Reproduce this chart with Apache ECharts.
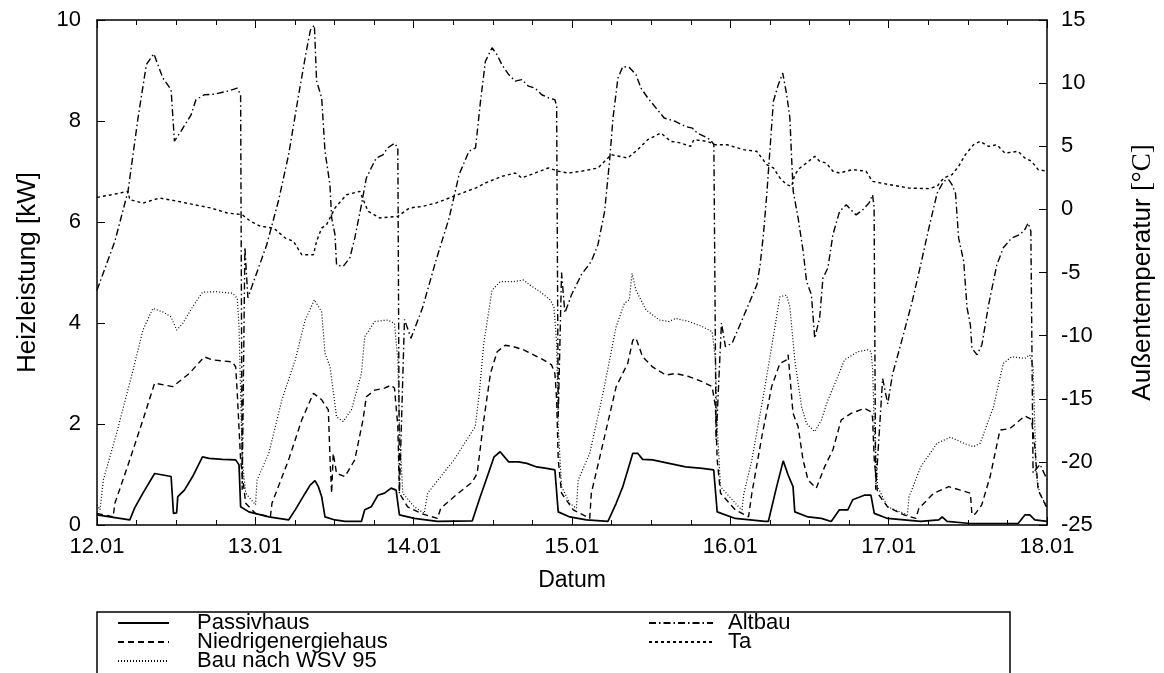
<!DOCTYPE html>
<html>
<head>
<meta charset="utf-8">
<script src="https://cdn.jsdelivr.net/npm/echarts@6/dist/echarts.min.js"></script>
<style>
  html, body { margin: 0; padding: 0; background: #fff; }
  #chart { width: 1164px; height: 673px; }
</style>
</head>
<body>
<div id="chart"></div>
<script>
// Tage (12.01 = 12. Januar), Werte [Tag, kW] bzw. [Tag, °C]
const xTickLabels = ["12.01", "13.01", "14.01", "15.01", "16.01", "17.01", "18.01"];

const passivhaus = [
  [12.000, 0.20], [12.082, 0.16], [12.207, 0.10], [12.238, 0.34], [12.290, 0.63],
  [12.364, 1.02], [12.416, 0.99], [12.468, 0.96], [12.483, 0.23], [12.503, 0.24],
  [12.510, 0.56], [12.552, 0.69], [12.604, 0.96], [12.666, 1.35], [12.708, 1.32],
  [12.792, 1.30], [12.876, 1.29], [12.897, 1.19], [12.907, 0.36], [12.959, 0.26],
  [13.085, 0.16], [13.210, 0.10], [13.252, 0.30], [13.315, 0.63], [13.346, 0.79],
  [13.377, 0.88], [13.398, 0.76], [13.419, 0.56], [13.440, 0.16], [13.503, 0.10],
  [13.566, 0.07], [13.670, 0.07], [13.691, 0.30], [13.732, 0.36], [13.774, 0.59],
  [13.816, 0.63], [13.858, 0.73], [13.889, 0.69], [13.910, 0.20], [14.004, 0.13],
  [14.150, 0.07], [14.370, 0.08], [14.414, 0.50], [14.464, 0.95], [14.508, 1.35],
  [14.546, 1.45], [14.600, 1.25], [14.663, 1.25], [14.715, 1.22], [14.777, 1.15],
  [14.840, 1.12], [14.892, 1.09], [14.913, 0.26], [14.986, 0.16], [15.091, 0.10],
  [15.227, 0.07], [15.279, 0.43], [15.321, 0.76], [15.362, 1.19], [15.384, 1.42],
  [15.415, 1.42], [15.446, 1.30], [15.509, 1.29], [15.613, 1.22], [15.718, 1.15],
  [15.823, 1.12], [15.895, 1.09], [15.917, 0.26], [16.031, 0.13], [16.219, 0.07],
  [16.240, 0.07], [16.288, 0.70], [16.334, 1.27], [16.365, 0.99], [16.396, 0.76],
  [16.407, 0.26], [16.491, 0.16], [16.575, 0.13], [16.637, 0.07], [16.689, 0.30],
  [16.742, 0.30], [16.773, 0.50], [16.846, 0.59], [16.888, 0.59], [16.909, 0.23],
  [16.993, 0.13], [17.202, 0.07], [17.317, 0.10], [17.338, 0.16], [17.369, 0.07],
  [17.515, 0.03], [17.818, 0.03], [17.860, 0.20], [17.891, 0.20], [17.923, 0.10],
  [18.000, 0.07]
];

const niedrigenergiehaus = [
  [12.000, 0.23], [12.102, 0.16], [12.113, 0.43], [12.207, 1.29], [12.290, 2.08],
  [12.364, 2.81], [12.478, 2.74], [12.583, 3.00], [12.677, 3.33], [12.729, 3.27],
  [12.855, 3.23], [12.876, 3.13], [12.886, 2.61], [12.907, 1.29], [12.939, 0.43],
  [13.001, 0.23], [13.095, 0.16], [13.105, 0.43], [13.210, 1.29], [13.293, 2.08],
  [13.367, 2.61], [13.419, 2.48], [13.461, 2.28], [13.472, 1.29], [13.482, 0.63],
  [13.492, 1.42], [13.513, 1.02], [13.566, 0.96], [13.628, 1.29], [13.680, 2.08],
  [13.701, 2.54], [13.754, 2.67], [13.816, 2.71], [13.858, 2.77], [13.879, 2.71],
  [13.900, 1.95], [13.910, 0.63], [13.962, 0.36], [14.046, 0.23], [14.150, 0.13],
  [14.171, 0.33], [14.255, 0.56], [14.370, 0.85], [14.401, 1.02], [14.443, 2.08],
  [14.485, 3.00], [14.527, 3.43], [14.579, 3.56], [14.631, 3.53], [14.694, 3.47],
  [14.757, 3.37], [14.820, 3.27], [14.871, 3.17], [14.892, 3.00], [14.903, 2.48],
  [14.913, 1.29], [14.934, 0.63], [15.008, 0.30], [15.112, 0.13], [15.122, 0.63],
  [15.196, 1.62], [15.279, 2.74], [15.352, 3.20], [15.384, 3.66], [15.404, 3.70],
  [15.446, 3.33], [15.509, 3.13], [15.592, 2.97], [15.655, 3.00], [15.738, 2.94],
  [15.822, 2.84], [15.885, 2.74], [15.906, 2.34], [15.917, 1.29], [15.938, 0.63],
  [16.031, 0.30], [16.115, 0.16], [16.136, 0.63], [16.199, 1.75], [16.261, 2.74],
  [16.313, 3.20], [16.355, 3.27], [16.365, 3.37], [16.396, 2.21], [16.428, 1.95],
  [16.459, 1.29], [16.491, 0.89], [16.543, 0.73], [16.595, 1.15], [16.648, 1.49],
  [16.700, 2.08], [16.763, 2.21], [16.846, 2.31], [16.884, 2.25], [16.898, 2.14],
  [16.909, 1.29], [16.930, 0.63], [16.993, 0.36], [17.097, 0.20], [17.171, 0.13],
  [17.191, 0.33], [17.285, 0.63], [17.379, 0.76], [17.453, 0.69], [17.516, 0.63],
  [17.526, 0.20], [17.547, 0.22], [17.588, 0.40], [17.641, 0.96], [17.703, 1.88],
  [17.766, 1.91], [17.860, 2.16], [17.902, 2.09], [17.923, 1.55], [17.944, 0.69],
  [17.996, 0.36]
];

const bauWSV95 = [
  [12.000, 0.40], [12.019, 0.30], [12.040, 0.89], [12.124, 1.82], [12.228, 3.07],
  [12.290, 3.86], [12.353, 4.29], [12.416, 4.22], [12.468, 4.12], [12.503, 3.86],
  [12.541, 3.99], [12.604, 4.32], [12.666, 4.61], [12.750, 4.62], [12.855, 4.59],
  [12.886, 4.49], [12.897, 3.93], [12.907, 2.61], [12.917, 1.29], [12.939, 0.63],
  [13.001, 0.40], [13.011, 0.89], [13.085, 1.42], [13.168, 2.48], [13.252, 3.27],
  [13.315, 4.06], [13.373, 4.46], [13.419, 4.22], [13.440, 3.40], [13.472, 3.13],
  [13.513, 2.14], [13.555, 2.05], [13.607, 2.28], [13.670, 3.00], [13.691, 3.73],
  [13.754, 4.03], [13.837, 4.06], [13.879, 3.99], [13.900, 3.27], [13.910, 1.95],
  [13.931, 0.63], [14.004, 0.36], [14.067, 0.23], [14.088, 0.63], [14.255, 1.29],
  [14.389, 1.95], [14.414, 2.60], [14.443, 3.60], [14.495, 4.65], [14.547, 4.82],
  [14.631, 4.82], [14.694, 4.85], [14.735, 4.75], [14.798, 4.62], [14.861, 4.46],
  [14.886, 4.32], [14.903, 3.60], [14.913, 1.95], [14.934, 0.76], [14.986, 0.43],
  [15.028, 0.33], [15.039, 0.89], [15.112, 1.42], [15.196, 2.61], [15.279, 3.93],
  [15.331, 4.39], [15.362, 4.46], [15.379, 4.98], [15.404, 4.65], [15.467, 4.26],
  [15.551, 4.06], [15.613, 4.03], [15.655, 4.09], [15.738, 4.03], [15.822, 3.93],
  [15.885, 3.83], [15.906, 3.27], [15.917, 1.95], [15.938, 0.76], [16.052, 0.36],
  [16.074, 0.30], [16.084, 0.60], [16.136, 1.29], [16.219, 2.74], [16.282, 3.93],
  [16.313, 4.52], [16.355, 4.55], [16.376, 4.32], [16.407, 3.27], [16.450, 2.34],
  [16.481, 2.01], [16.533, 1.85], [16.575, 2.08], [16.617, 2.48], [16.679, 2.94],
  [16.721, 3.27], [16.805, 3.43], [16.868, 3.47], [16.889, 3.43], [16.899, 3.07],
  [16.909, 1.95], [16.930, 0.76], [16.993, 0.36], [17.118, 0.20], [17.129, 0.56],
  [17.202, 1.15], [17.306, 1.62], [17.390, 1.74], [17.473, 1.62], [17.536, 1.55],
  [17.578, 1.62], [17.662, 2.34], [17.724, 3.20], [17.776, 3.33], [17.860, 3.30],
  [17.891, 3.37], [17.912, 3.13], [17.923, 1.95], [17.933, 0.96], [17.954, 0.63],
  [18.000, 0.36]
];

const altbau = [
  [12.000, 4.65], [12.113, 5.62], [12.196, 6.61], [12.259, 8.06], [12.312, 9.12],
  [12.359, 9.33], [12.416, 8.85], [12.468, 8.62], [12.489, 7.60], [12.531, 7.80],
  [12.594, 8.12], [12.625, 8.42], [12.677, 8.52], [12.740, 8.53], [12.823, 8.59],
  [12.886, 8.65], [12.907, 8.52], [12.917, 0.70], [12.934, 5.50], [12.953, 4.50],
  [13.072, 5.55], [13.147, 6.43], [13.210, 7.33], [13.273, 8.51], [13.323, 9.40],
  [13.348, 9.80], [13.373, 9.90], [13.387, 8.79], [13.419, 8.46], [13.440, 7.40],
  [13.471, 6.74], [13.482, 6.08], [13.503, 5.75], [13.513, 5.15], [13.555, 5.12],
  [13.597, 5.29], [13.628, 5.68], [13.670, 6.34], [13.701, 6.87], [13.732, 7.07],
  [13.764, 7.27], [13.806, 7.33], [13.837, 7.47], [13.879, 7.56], [13.900, 7.47],
  [13.910, 0.63], [13.942, 4.07], [13.983, 3.70], [14.056, 4.30], [14.140, 5.23],
  [14.224, 6.08], [14.287, 6.94], [14.349, 7.40], [14.391, 7.47], [14.422, 8.39],
  [14.453, 9.18], [14.495, 9.45], [14.527, 9.31], [14.558, 9.11], [14.600, 8.92],
  [14.641, 8.79], [14.683, 8.82], [14.725, 8.69], [14.767, 8.65], [14.809, 8.52],
  [14.851, 8.46], [14.892, 8.42], [14.903, 8.30], [14.913, 2.14], [14.934, 5.00],
  [14.955, 4.20], [14.997, 4.56], [15.060, 4.96], [15.122, 5.22], [15.164, 5.55],
  [15.206, 6.21], [15.237, 7.20], [15.259, 8.06], [15.290, 8.85], [15.321, 9.08],
  [15.362, 9.06], [15.404, 8.92], [15.436, 8.65], [15.478, 8.46], [15.530, 8.26],
  [15.582, 8.06], [15.655, 7.99], [15.718, 7.89], [15.760, 7.86], [15.791, 7.76],
  [15.832, 7.70], [15.875, 7.63], [15.896, 7.53], [15.910, 1.68], [15.944, 4.00],
  [15.969, 3.53], [16.011, 3.60], [16.074, 4.06], [16.168, 4.76], [16.188, 5.15],
  [16.209, 5.75], [16.230, 6.54], [16.251, 7.47], [16.272, 8.39], [16.303, 8.72],
  [16.331, 8.95], [16.356, 8.52], [16.376, 8.06], [16.387, 7.27], [16.397, 6.61],
  [16.428, 6.08], [16.460, 5.42], [16.481, 4.83], [16.512, 4.56], [16.533, 3.70],
  [16.564, 4.10], [16.585, 4.89], [16.616, 5.09], [16.648, 5.75], [16.690, 6.21],
  [16.732, 6.34], [16.794, 6.14], [16.836, 6.24], [16.877, 6.38], [16.898, 6.54],
  [16.908, 6.30], [16.918, 0.70], [16.962, 2.90], [16.994, 2.40], [17.024, 2.98],
  [17.087, 3.70], [17.149, 4.43], [17.202, 5.15], [17.254, 5.88], [17.306, 6.57],
  [17.348, 6.81], [17.379, 6.84], [17.400, 6.74], [17.422, 6.57], [17.442, 5.68],
  [17.474, 5.22], [17.495, 4.30], [17.516, 3.97], [17.526, 3.50], [17.558, 3.37],
  [17.589, 3.57], [17.631, 4.36], [17.683, 5.15], [17.724, 5.49], [17.776, 5.68],
  [17.829, 5.75], [17.860, 5.85], [17.881, 5.98], [17.898, 5.82], [17.912, 1.03],
  [17.956, 1.20], [18.000, 0.90]
];

const ta = [
  [12.000, 0.95], [12.092, 1.16], [12.196, 1.43], [12.207, 0.77], [12.290, 0.50],
  [12.395, 0.90], [12.510, 0.64], [12.614, 0.37], [12.719, 0.11], [12.823, -0.29],
  [12.917, -0.42], [12.970, -0.95], [13.033, -1.34], [13.116, -1.48], [13.189, -2.27],
  [13.241, -2.53], [13.293, -3.59], [13.367, -3.59], [13.387, -2.53], [13.419, -1.48],
  [13.450, -1.21], [13.503, 0.11], [13.576, 1.16], [13.660, 1.43], [13.712, -0.15],
  [13.785, -0.68], [13.900, -0.55], [13.973, 0.11], [14.056, 0.24], [14.140, 0.50],
  [14.224, 0.90], [14.307, 1.30], [14.391, 1.69], [14.453, 2.09], [14.558, 2.62],
  [14.641, 2.88], [14.683, 2.49], [14.767, 2.88], [14.851, 3.28], [14.913, 3.02],
  [14.976, 2.88], [15.060, 3.02], [15.164, 3.28], [15.248, 4.33], [15.352, 4.07],
  [15.415, 4.73], [15.478, 5.52], [15.561, 6.05], [15.624, 5.39], [15.687, 5.26],
  [15.749, 4.99], [15.770, 5.52], [15.854, 5.39], [15.906, 5.12], [15.979, 5.12],
  [16.083, 4.73], [16.167, 4.60], [16.230, 3.54], [16.272, 3.28], [16.313, 2.49],
  [16.355, 1.96], [16.387, 1.83], [16.407, 2.75], [16.439, 3.28], [16.481, 3.67],
  [16.533, 4.20], [16.564, 3.81], [16.606, 3.67], [16.648, 3.02], [16.690, 2.88],
  [16.773, 3.15], [16.857, 3.02], [16.898, 2.22], [17.003, 1.96], [17.129, 1.69],
  [17.254, 1.64], [17.306, 1.83], [17.348, 2.49], [17.400, 2.75], [17.442, 3.41],
  [17.484, 4.33], [17.536, 5.12], [17.578, 5.39], [17.631, 4.99], [17.683, 5.12],
  [17.734, 4.46], [17.818, 4.60], [17.860, 4.07], [17.902, 3.81], [17.944, 3.15],
  [18.000, 3.02]
];

const FONT = "'Liberation Sans', Arial, sans-serif";

let myChart = echarts.init(document.getElementById("chart"));

function lineSeries(name, data, dash, width, yIndex) {
  return {
    name: name,
    type: "line",
    data: data,
    yAxisIndex: yIndex || 0,
    symbol: "none",
    showSymbol: false,
    smooth: false,
    lineStyle: { color: "#000", width: width, type: dash },
    itemStyle: { color: "#000" },
  };
}

const tickStyle = { show: true, inside: true, length: 8, lineStyle: { color: "#000", width: 1 } };
const frameLine = { show: true, onZero: false, lineStyle: { color: "#000", width: 1.5 } };

// Legende: zwei Spalten, untereinander wie im Original
function legendColumn(names, left, iconWidth, textPad) {
  return {
    data: names,
    orient: "vertical",
    left: left,
    top: 612,
    height: 90,
    padding: 0,
    itemWidth: iconWidth,
    itemHeight: 14,
    itemGap: -3,
    itemStyle: { opacity: 0 },
    textStyle: {
      fontSize: 22, padding: [0, 0, 0, textPad],
      fontFamily: FONT, color: "#000",
    },
    selectedMode: false,
  };
}

let option = {
  animation: false,
  backgroundColor: "#fff",
  textStyle: { fontFamily: FONT, color: "#000" },
  grid: { left: 97, right: 110, top: 20, bottom: 148, containLabel: false },
  xAxis: [
    {
      type: "value",
      min: 12,
      max: 18,
      interval: 1,
      position: "bottom",
      name: "Datum",
      nameLocation: "middle",
      nameGap: 44,
      nameTextStyle: { fontSize: 23, fontFamily: FONT, color: "#000" },
      axisLine: frameLine,
      axisTick: tickStyle,
      minorTick: { show: true, splitNumber: 4, length: 5, lineStyle: { color: "#000" } },
      splitLine: { show: false },
      axisLabel: {
        fontSize: 22,
        color: "#000",
        margin: 11,
        formatter: (v) => xTickLabels[Math.round(v - 12)],
      },
    },
    {
      type: "value",
      min: 12,
      max: 18,
      interval: 1,
      position: "top",
      axisLine: frameLine,
      axisTick: tickStyle,
      minorTick: { show: true, splitNumber: 4, length: 5, lineStyle: { color: "#000" } },
      splitLine: { show: false },
      axisLabel: { show: false },
    },
  ],
  yAxis: [
    {
      type: "value",
      min: 0,
      max: 10,
      interval: 2,
      position: "left",
      name: "Heizleistung [kW]",
      nameLocation: "middle",
      nameGap: 56,
      nameTextStyle: { fontSize: 26, fontFamily: FONT, color: "#000" },
      axisLine: frameLine,
      axisTick: tickStyle,
      splitLine: { show: false },
      axisLabel: { fontSize: 22, color: "#000", margin: 16 },
    },
    {
      type: "value",
      min: -25,
      max: 15,
      interval: 5,
      position: "right",
      name: "Außentemperatur {s|[°C]}",
      nameLocation: "middle",
      nameGap: 82,
      nameTextStyle: {
        fontSize: 26,
        fontFamily: FONT,
        color: "#000",
        rich: { s: { fontSize: 27, fontFamily: "'Liberation Serif', serif", color: "#000" } },
      },
      axisLine: frameLine,
      axisTick: tickStyle,
      splitLine: { show: false },
      axisLabel: { fontSize: 22, color: "#000", margin: 14 },
    },
  ],
  legend: [
    legendColumn(["Passivhaus", "Niedrigenergiehaus", "Bau nach WSV 95"], 117, 51, 23),
    legendColumn(["Altbau", "Ta"], 648, 64, 10),
  ],
  graphic: [
    {
      type: "rect",
      shape: { x: 97, y: 612, width: 913, height: 90 },
      style: { fill: "none", stroke: "#000", lineWidth: 1.5 },
      silent: true,
      z: 100,
    },
  ],
  series: [
    lineSeries("Passivhaus", passivhaus, "solid", 1.7),
    lineSeries("Niedrigenergiehaus", niedrigenergiehaus, [6, 4], 1.4),
    lineSeries("Bau nach WSV 95", bauWSV95, [1, 2], 1.2),
    lineSeries("Altbau", altbau, [7, 3, 1.5, 3], 1.4),
    lineSeries("Ta", ta, [3, 3], 1.4, 1),
  ],
};

myChart.setOption(option);
</script>
</body>
</html>
